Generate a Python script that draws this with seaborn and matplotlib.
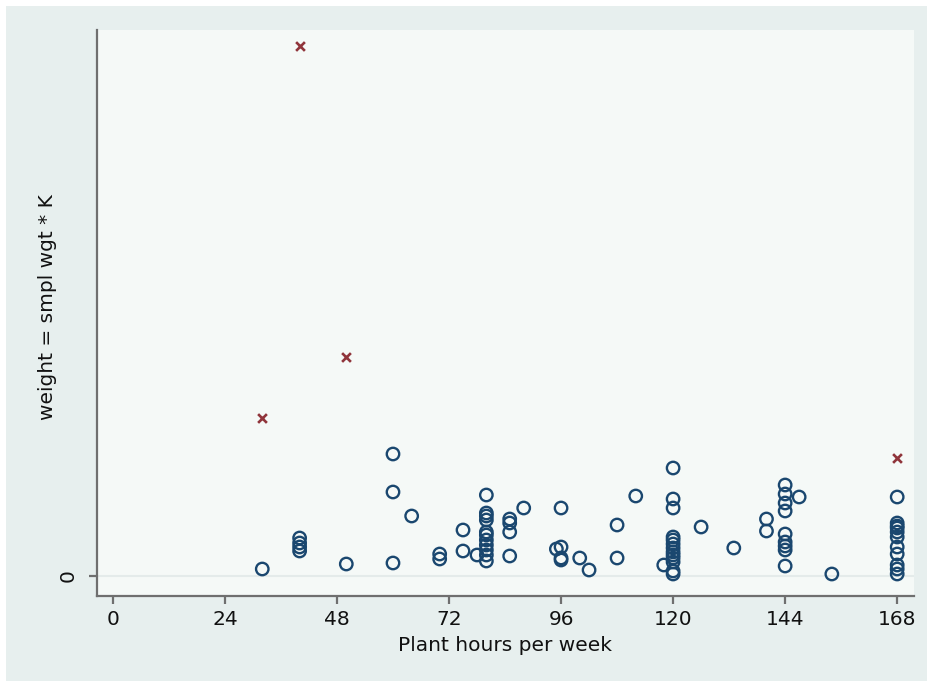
import numpy as np
import pandas as pd
import matplotlib
matplotlib.use("Agg")
import matplotlib.pyplot as plt
import seaborn as sns

# Plant hours per week and weight, normal observations (circles)
hours = [32,
         40, 40, 40, 40,
         50,
         60, 60, 60,
         64,
         70, 70,
         75, 75,
         78,
         80, 80, 80, 80, 80, 80, 80, 80, 80, 80, 80,
         85, 85, 85, 85,
         88,
         95,
         96, 96, 96, 96,
         100, 102,
         108, 108,
         112, 118,
         120, 120, 120, 120, 120, 120, 120, 120, 120, 120, 120, 120, 120,
         126, 133,
         140, 140,
         144, 144, 144, 144, 144, 144, 144, 144, 144,
         147, 154,
         168, 168, 168, 168, 168, 168, 168, 168, 168, 168, 168]
weight = [0.7,
          3.8, 3.3, 2.9, 2.5,
          1.2,
          1.3, 8.4, 12.2,
          6.0,
          2.2, 1.7,
          4.6, 2.5,
          2.1,
          8.1, 6.3, 6.0, 5.6, 4.4, 4.1, 3.6, 3.1, 2.6, 2.1, 1.5,
          5.7, 5.3, 4.4, 2.0,
          6.8,
          2.7,
          6.8, 2.9, 1.8, 1.6,
          1.8, 0.6,
          5.1, 1.8,
          8.0, 1.1,
          10.8, 7.7, 6.8, 3.9, 3.6, 3.2, 2.8, 2.4, 2.1, 1.8, 1.4, 0.5, 0.2,
          4.9, 2.8,
          5.7, 4.5,
          9.1, 8.2, 7.3, 6.5, 4.2, 3.4, 3.0, 2.6, 1.0,
          7.9, 0.2,
          7.9, 5.3, 5.0, 4.8, 4.4, 3.9, 2.9, 2.2, 1.1, 0.7, 0.2]

# flagged observations (crosses)
out_hours = [32, 40, 50, 168]
out_weight = [15.8, 53.0, 21.9, 11.8]

xticks = [0, 24, 48, 72, 96, 120, 144, 168]

navy = "#1a476f"
maroon = "#90353b"
outer_bg = "#e7efee"
inner_bg = "#f5f9f7"
axis_col = "#6f6f6f"

df = pd.DataFrame({"hours": hours, "weight": weight})
df_out = pd.DataFrame({"hours": out_hours, "weight": out_weight})

sns.set_style("white")
plt.rcParams["font.family"] = ["DejaVu Sans"]

fig = plt.figure(figsize=(9.28, 6.81), dpi=100)
fig.patch.set_facecolor("white")
fig.patches.append(plt.Rectangle((6 / 928, 0), 1, 1 - 6 / 681,
                                 transform=fig.transFigure, facecolor=outer_bg,
                                 edgecolor="none", zorder=-10))

ax = fig.add_axes([97 / 928, 1 - 596 / 681, (914 - 97) / 928, (596 - 30) / 681])
ax.set_facecolor(inner_bg)

# faint grid line at zero
ax.axhline(0, color="#e4ebea", lw=1.5, zorder=0)

sns.scatterplot(data=df, x="hours", y="weight", ax=ax, marker="o", s=80,
                linewidth=1.7, color=navy, zorder=3)
pts = ax.collections[-1]
pts.set_facecolor("none")
pts.set_edgecolor(navy)

sns.scatterplot(data=df_out, x="hours", y="weight", ax=ax, marker="x", s=40,
                linewidth=1.9, color=maroon, zorder=3)

ax.set_xlim(-3.4, 171.6)
ax.set_ylim(-2.0, 54.6)
ax.set_xticks(xticks)
ax.set_xticklabels([str(t) for t in xticks])
ax.set_yticks([0])
ax.set_yticklabels(["0"], rotation=90, va="center")

for side in ["top", "right"]:
    ax.spines[side].set_visible(False)
for side in ["left", "bottom"]:
    ax.spines[side].set_color(axis_col)
    ax.spines[side].set_linewidth(1.6)

ax.tick_params(axis="both", which="major", length=6, width=1.6, color=axis_col,
               labelsize=14.5, labelcolor="#111111", direction="out",
               bottom=True, left=True)
ax.tick_params(axis="x", pad=4)
ax.tick_params(axis="y", pad=8)

ax.set_xlabel("Plant hours per week", fontsize=14.5, color="#111111", labelpad=5)
ax.set_ylabel("weight = smpl wgt * K", fontsize=14.5, color="#111111")
ax.yaxis.set_label_coords(-0.049, 0.51)

fig.savefig("out.png", dpi=100, facecolor=fig.get_facecolor())
